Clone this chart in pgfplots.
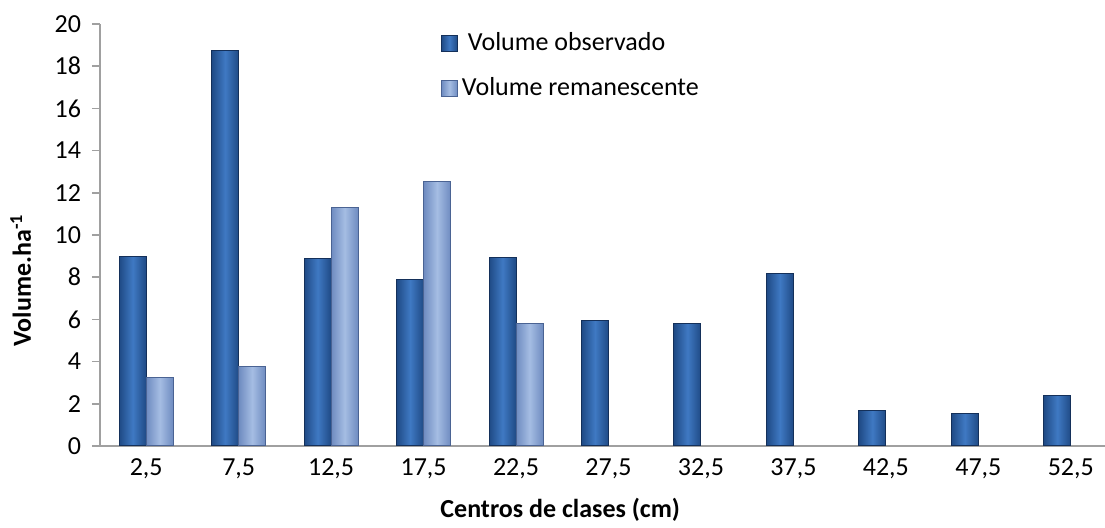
\documentclass[border=0pt]{standalone}
\usepackage{fontspec}
\setmainfont{Carlito}
\usepackage{pgfplots}
\pgfplotsset{compat=1.18}

\definecolor{obsEdge}{HTML}{1F4A85}
\definecolor{obsMid}{HTML}{3F79C3}
\definecolor{obsLine}{HTML}{14305A}
\definecolor{remEdge}{HTML}{6E8BC0}
\definecolor{remMid}{HTML}{A5BDE3}
\definecolor{remLine}{HTML}{4A6393}
\definecolor{axisgray}{HTML}{A0A0A0}

% each bar is its own plot so that the shading spans one bar only
\pgfplotsset{
  obs/.style={forget plot, bar shift=-6.75pt, draw=obsLine, line width=0.5pt,
    left color=obsEdge, right color=obsEdge, middle color=obsMid},
  rem/.style={forget plot, bar shift=6.75pt, draw=remLine, line width=0.5pt,
    left color=remEdge, right color=remEdge, middle color=remMid},
  sqlegend/.style={legend image code/.code={
    \draw[##1] (0pt,-4pt) rectangle (8pt,4pt);}},
}

\begin{document}
\begin{tikzpicture}
\useasboundingbox (-50pt,-41pt) rectangle (502.5pt,223pt);
\begin{axis}[
  at={(0,0)}, anchor=south west,
  scale only axis,
  width=502.5pt, height=211pt,
  ybar, bar width=13.5pt,
  xmin=-0.5, xmax=10.37,
  ymin=0, ymax=20,
  xtick={0,...,10},
  xticklabels={{2,5},{7,5},{12,5},{17,5},{22,5},{27,5},{32,5},{37,5},{42,5},{47,5},{52,5}},
  ytick={0,2,...,20},
  axis x line*=bottom, axis y line*=left,
  axis line style={axisgray, line width=0.75pt},
  x tick style={draw=none},
  y tick style={axisgray, line width=0.75pt},
  tick align=outside,
  major tick length=4pt,
  tick label style={font=\fontsize{13}{15}\selectfont},
  /pgf/number format/assume math mode=true,
  yticklabel style={xshift=-2pt},
  xticklabel style={yshift=1pt},
  xlabel={Centros de clases (cm)},
  ylabel={Volume.ha\textsuperscript{-1}},
  xlabel style={font=\fontsize{13}{15}\selectfont\bfseries,
    at={(axis description cs:0.458,-0.152)}, anchor=center},
  ylabel style={font=\fontsize{13}{15}\selectfont\bfseries,
    at={(axis description cs:-0.079,0.393)}, anchor=center},
  legend style={draw=none, fill=none, at={(0.339,0.99)}, anchor=north west,
    font=\fontsize{13}{15}\selectfont, row sep=8pt, inner sep=0pt,
    cells={anchor=west}},
]
% Volume observado
\addplot[obs] coordinates {(0,8.97)};
\addplot[obs] coordinates {(1,18.72)};
\addplot[obs] coordinates {(2,8.88)};
\addplot[obs] coordinates {(3,7.90)};
\addplot[obs] coordinates {(4,8.94)};
\addplot[obs] coordinates {(5,5.94)};
\addplot[obs] coordinates {(6,5.81)};
\addplot[obs] coordinates {(7,8.18)};
\addplot[obs] coordinates {(8,1.66)};
\addplot[obs] coordinates {(9,1.55)};
\addplot[obs] coordinates {(10,2.40)};
% Volume remanescente
\addplot[rem] coordinates {(0,3.25)};
\addplot[rem] coordinates {(1,3.76)};
\addplot[rem] coordinates {(2,11.31)};
\addplot[rem] coordinates {(3,12.53)};
\addplot[rem] coordinates {(4,5.81)};

\addlegendimage{sqlegend, draw=obsLine, left color=obsEdge, right color=obsEdge, middle color=obsMid}
\addlegendentry{\hspace{3pt}Volume observado}
\addlegendimage{sqlegend, draw=remLine, left color=remEdge, right color=remEdge, middle color=remMid}
\addlegendentry{Volume remanescente}
\end{axis}
\end{tikzpicture}
\end{document}
